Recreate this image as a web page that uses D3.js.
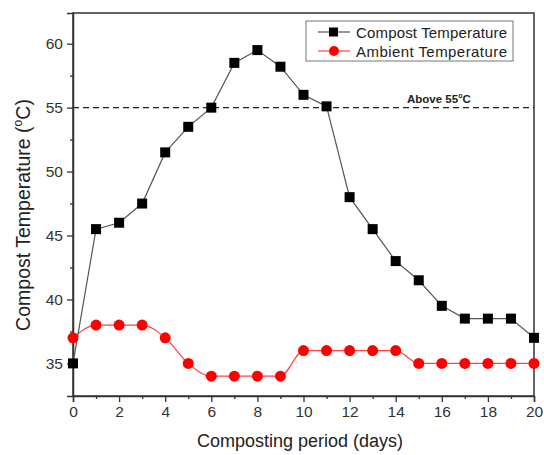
<!DOCTYPE html>
<html><head><meta charset="utf-8">
<script src="https://cdn.jsdelivr.net/npm/d3@7"></script>
<style>body{margin:0;background:#fff}svg{font-family:Arial,"Liberation Sans",sans-serif}</style>
</head><body><svg id="c" width="544" height="455"></svg>
<script>
const days = d3.range(0, 21);
const compostTemp = [35,45.5,46,47.5,51.5,53.5,55,58.5,59.5,58.2,56,55.1,48,45.5,43,41.5,39.5,38.5,38.5,38.5,37];
const ambientTemp = [37,38,38,38,37,35,34,34,34,34,36,36,36,36,36,35,35,35,35,35,35];
const xTicks = [0,2,4,6,8,10,12,14,16,18,20];
const yTicks = [35,40,45,50,55,60];
const threshold = 55;
const seriesNames = ["Compost Temperature","Ambient Temperature"];

const svg = d3.select("#c");
const L=73,R=534,T=13,B=396;
const x = d3.scaleLinear().domain([0,20]).range([L,R]);
const y = d3.scaleLinear().domain([32.45,62.4]).range([B,T]);

svg.append("rect").attr("x",L).attr("y",T).attr("width",R-L).attr("height",B-T)
  .attr("fill","none").attr("stroke","#333").attr("stroke-width",1.5);

svg.append("g").attr("transform",`translate(0,${B})`)
  .call(d3.axisBottom(x).tickValues(xTicks).tickSize(6).tickPadding(4).tickFormat(d3.format("d")));
svg.append("g").attr("transform",`translate(0,${B})`)
  .call(d3.axisBottom(x).tickValues(d3.range(1,20,2)).tickSize(3).tickFormat(""))
  .call(g=>g.select(".domain").remove());
svg.append("g").attr("transform",`translate(${L},0)`)
  .call(d3.axisLeft(y).tickValues(yTicks).tickSize(6).tickPadding(4));
svg.append("g").attr("transform",`translate(${L},0)`)
  .call(d3.axisLeft(y).tickValues([37.5,42.5,47.5,52.5,57.5]).tickSize(3).tickFormat(""))
  .call(g=>g.select(".domain").remove());
svg.selectAll(".tick line").attr("stroke","#333").attr("stroke-width",1.3);
svg.selectAll(".domain").attr("stroke","#333").attr("stroke-width",1.5);
svg.selectAll(".tick text").attr("font-size",15.5).attr("fill","#333")
  .attr("font-family","Arial,'Liberation Sans',sans-serif");

svg.append("line").attr("x1",L).attr("x2",R).attr("y1",y(threshold)).attr("y2",y(threshold))
  .attr("stroke","#222").attr("stroke-width",1.2).attr("stroke-dasharray","6,4");
const at = svg.append("text").attr("x",407).attr("y",y(threshold)-5).attr("font-size",11.5)
  .attr("font-weight","bold").attr("fill","#222");
at.append("tspan").text("Above 55");
at.append("tspan").text("o").attr("font-size",7).attr("dy",-5);
at.append("tspan").text("C").attr("dy",5);

const cData = days.map((d,i)=>[d,compostTemp[i]]);
const aData = days.map((d,i)=>[d,ambientTemp[i]]);
svg.append("path").datum(aData).attr("fill","none").attr("stroke","#f44").attr("stroke-width",1.2)
  .attr("d",d3.line().x(d=>x(d[0])).y(d=>y(d[1])).curve(d3.curveMonotoneX));
svg.append("path").datum(cData).attr("fill","none").attr("stroke","#555").attr("stroke-width",1.2)
  .attr("d",d3.line().x(d=>x(d[0])).y(d=>y(d[1])));
svg.selectAll(".am").data(aData).enter().append("circle")
  .attr("cx",d=>x(d[0])).attr("cy",d=>y(d[1])).attr("r",5.5).attr("fill","#f00");
svg.selectAll(".cm").data(cData).enter().append("rect")
  .attr("x",d=>x(d[0])-5).attr("y",d=>y(d[1])-5).attr("width",10).attr("height",10).attr("fill","#000");

svg.append("rect").attr("x",306).attr("y",21).attr("width",207).attr("height",40)
  .attr("fill","#fff").attr("stroke","#777").attr("stroke-width",1);
const lg = [{n:seriesNames[0],c:"#555",m:"sq",yy:32},{n:seriesNames[1],c:"#f44",m:"ci",yy:51}];
lg.forEach(o=>{
  svg.append("line").attr("x1",318).attr("x2",350).attr("y1",o.yy).attr("y2",o.yy).attr("stroke",o.c).attr("stroke-width",1.2);
  if(o.m==="sq") svg.append("rect").attr("x",329).attr("y",o.yy-4.5).attr("width",9).attr("height",9).attr("fill","#000");
  else svg.append("circle").attr("cx",334).attr("cy",o.yy).attr("r",5).attr("fill","#f00");
  svg.append("text").attr("x",356).attr("y",o.yy+5.5).attr("font-size",15).attr("textLength",151).attr("fill","#222").text(o.n);
});

svg.append("text").attr("x",300).attr("y",447).attr("text-anchor","middle").attr("font-size",18).attr("fill","#222")
  .text("Composting period (days)");
const yl = svg.append("text").attr("transform","translate(30,215) rotate(-90)").attr("text-anchor","middle")
  .attr("font-size",19.5).attr("fill","#222");
yl.append("tspan").text("Compost Temperature (");
yl.append("tspan").text("o").attr("font-size",12).attr("dy",-8);
yl.append("tspan").text("C)").attr("dy",8);
</script></body></html>
